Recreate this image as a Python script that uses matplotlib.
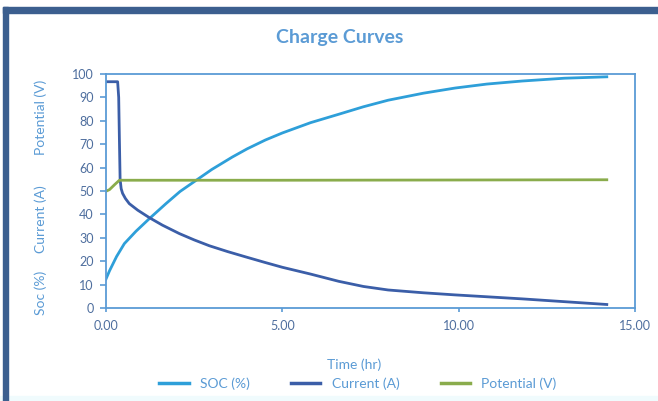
import matplotlib.pyplot as plt
from matplotlib.patches import Rectangle
from matplotlib.ticker import FormatStrFormatter

plt.rcParams['font.family'] = ['Lato', 'DejaVu Sans']

# ---------- data ----------
soc_t = [0.0, 0.1, 0.3, 0.52, 0.85, 1.23, 1.7, 2.1, 2.55, 3.0, 3.58, 4.0, 4.52,
         5.0, 5.8, 6.6, 7.3, 8.0, 9.0, 9.9, 10.8, 11.8, 13.0, 14.2]
soc_v = [12.4, 15.9, 22.0, 27.5, 32.8, 38.2, 44.6, 49.8, 54.5, 59.2, 64.5, 68.0, 71.8,
         74.8, 79.2, 82.8, 86.0, 88.8, 91.8, 94.0, 95.7, 97.0, 98.2, 98.8]

cur_t = [0.0, 0.33, 0.36, 0.38, 0.40, 0.43, 0.47, 0.55, 0.66, 0.9, 1.23, 1.6,
         2.08, 2.5, 2.93, 3.45, 3.97, 4.5, 5.0, 5.8, 6.6, 7.3, 8.0, 9.0, 9.9,
         10.8, 11.8, 13.0, 14.2]
cur_v = [96.7, 96.7, 90.0, 72.0, 55.0, 51.0, 49.0, 46.8, 44.6, 41.8, 38.6, 35.4,
         31.8, 29.1, 26.6, 24.1, 21.8, 19.5, 17.4, 14.5, 11.4, 9.2, 7.7, 6.5, 5.6,
         4.8, 3.9, 2.7, 1.5]

pot_t = [0.0, 0.1, 0.25, 0.38, 2.0, 5.0, 10.0, 14.2]
pot_v = [49.9, 50.6, 52.8, 54.6, 54.6, 54.6, 54.7, 54.8]

x_ticks = [0, 5, 10, 15]
y_ticks = list(range(0, 101, 10))

# ---------- colours ----------
c_soc = '#2e9fd9'
c_cur = '#3b5ea8'
c_pot = '#8aac4c'
c_axis = '#5b9bd5'
c_tick = '#4e6e9e'
c_frame = '#3c5f8f'

fig = plt.figure(figsize=(6.58, 4.01), dpi=100)
W, H = 658, 401

# outer frame + pale strip at the bottom
fig.patches.append(Rectangle((0, 0), 1, 5 / H, transform=fig.transFigure,
                             color='#f0fbfd', zorder=0))
fig.patches.append(Rectangle((3 / W, 1 - 13 / H), 1, 6 / H, transform=fig.transFigure,
                             color=c_frame, zorder=1))
fig.patches.append(Rectangle((3 / W, 0), 5 / W, 1 - 7 / H, transform=fig.transFigure,
                             color=c_frame, zorder=1))

ax = fig.add_axes([106 / W, 93 / H, 529 / W, 234 / H])
ax.plot(soc_t, soc_v, color=c_soc, lw=2.0, label='SOC (%)', solid_joinstyle='round')
ax.plot(cur_t, cur_v, color=c_cur, lw=2.0, label='Current (A)', solid_joinstyle='round')
ax.plot(pot_t, pot_v, color=c_pot, lw=2.0, label='Potential (V)', solid_joinstyle='round')

ax.set_xlim(0, 15)
ax.set_ylim(0, 100)
ax.set_xticks(x_ticks)
ax.set_yticks(y_ticks)
ax.xaxis.set_major_formatter(FormatStrFormatter('%.2f'))

for s in ax.spines.values():
    s.set_color(c_axis)
    s.set_linewidth(1.3)
ax.tick_params(axis='y', direction='out', length=4, width=1.2, color=c_axis,
               labelcolor=c_tick, labelsize=9, pad=5)
ax.tick_params(axis='x', direction='out', length=3, width=1.2, color=c_axis,
               labelcolor=c_tick, labelsize=9, pad=6)

# title and stacked y labels
fig.text(340 / W, 1 - 38 / H, 'Charge Curves', ha='center', va='center',
         fontsize=14, fontweight='bold', color=c_axis)
for label, yc in [('Potential (V)', 117), ('Current (A)', 219), ('Soc (%)', 293)]:
    fig.text(41 / W, 1 - yc / H, label, rotation=90, ha='center', va='center',
             fontsize=10, color=c_axis)
fig.text(354 / W, 1 - 365 / H, 'Time (hr)', ha='center', va='center',
         fontsize=10, color=c_axis)

leg = fig.legend(loc='center', bbox_to_anchor=(358 / W, 1 - 384 / H), ncol=3,
                 frameon=False, fontsize=10, handlelength=2.1, handletextpad=0.8,
                 columnspacing=3.0)
for t in leg.get_texts():
    t.set_color(c_axis)
for h in leg.legend_handles:
    h.set_linewidth(2.5)

fig.savefig('out.png', dpi=100)
